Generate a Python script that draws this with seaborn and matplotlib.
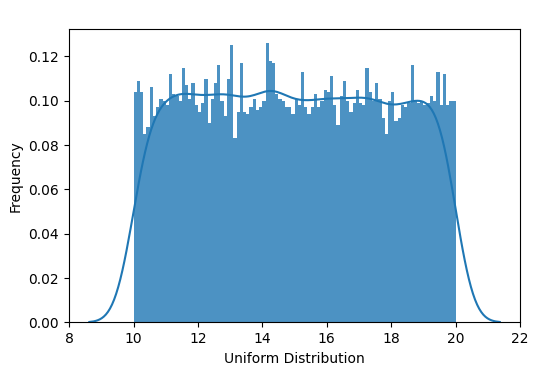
import numpy as np
import pandas as pd
import matplotlib
matplotlib.use("Agg")
import matplotlib.pyplot as plt
import seaborn as sns

#%%
# ヒストグラムの範囲 (10〜20 を 100 本)
bin_range = (10, 20)
n_bins = 100

# 各棒の高さ
heights = [
    0.104, 0.109, 0.104, 0.085, 0.088, 0.106, 0.093, 0.097, 0.101, 0.100,
    0.098, 0.112, 0.103, 0.102, 0.100, 0.115, 0.107, 0.101, 0.108, 0.098,
    0.095, 0.099, 0.110, 0.090, 0.101, 0.108, 0.116, 0.100, 0.093, 0.110,
    0.125, 0.083, 0.095, 0.117, 0.095, 0.094, 0.097, 0.101, 0.096, 0.097,
    0.100, 0.126, 0.118, 0.117, 0.103, 0.101, 0.100, 0.097, 0.097, 0.094,
    0.101, 0.098, 0.113, 0.097, 0.094, 0.097, 0.103, 0.097, 0.100, 0.105,
    0.104, 0.111, 0.098, 0.089, 0.102, 0.109, 0.100, 0.095, 0.099, 0.105,
    0.099, 0.098, 0.115, 0.104, 0.100, 0.108, 0.101, 0.092, 0.085, 0.100,
    0.104, 0.091, 0.092, 0.098, 0.097, 0.099, 0.116, 0.100, 0.099, 0.100,
    0.098, 0.099, 0.102, 0.100, 0.113, 0.098, 0.112, 0.098, 0.100, 0.100,
]

# 各棒の中心 (重み付きデータとして渡す)
edges = np.linspace(bin_range[0], bin_range[1], n_bins + 1)
centers = (edges[:-1] + edges[1:]) / 2
df = pd.DataFrame({"x": centers, "w": heights})

#%%
plt.rcParams["font.size"] = 10

fig, ax = plt.subplots(figsize=(5.42, 3.74), dpi=100)
fig.subplots_adjust(left=0.127, right=0.96, bottom=0.138, top=0.922)

sns.histplot(
    data=df, x="x", weights="w",
    bins=n_bins, binrange=bin_range, stat="count",
    kde=True, kde_kws={"bw_adjust": 0.41, "cut": 3},
    line_kws={"linewidth": 1.5},
    color="#1f77b4", alpha=0.8, linewidth=0,
    ax=ax,
)

ax.set_xlabel("Uniform Distribution")
ax.set_ylabel("Frequency")
ax.set_xticks(np.arange(8, 23, 2))

fig.savefig("out.png", dpi=100)
